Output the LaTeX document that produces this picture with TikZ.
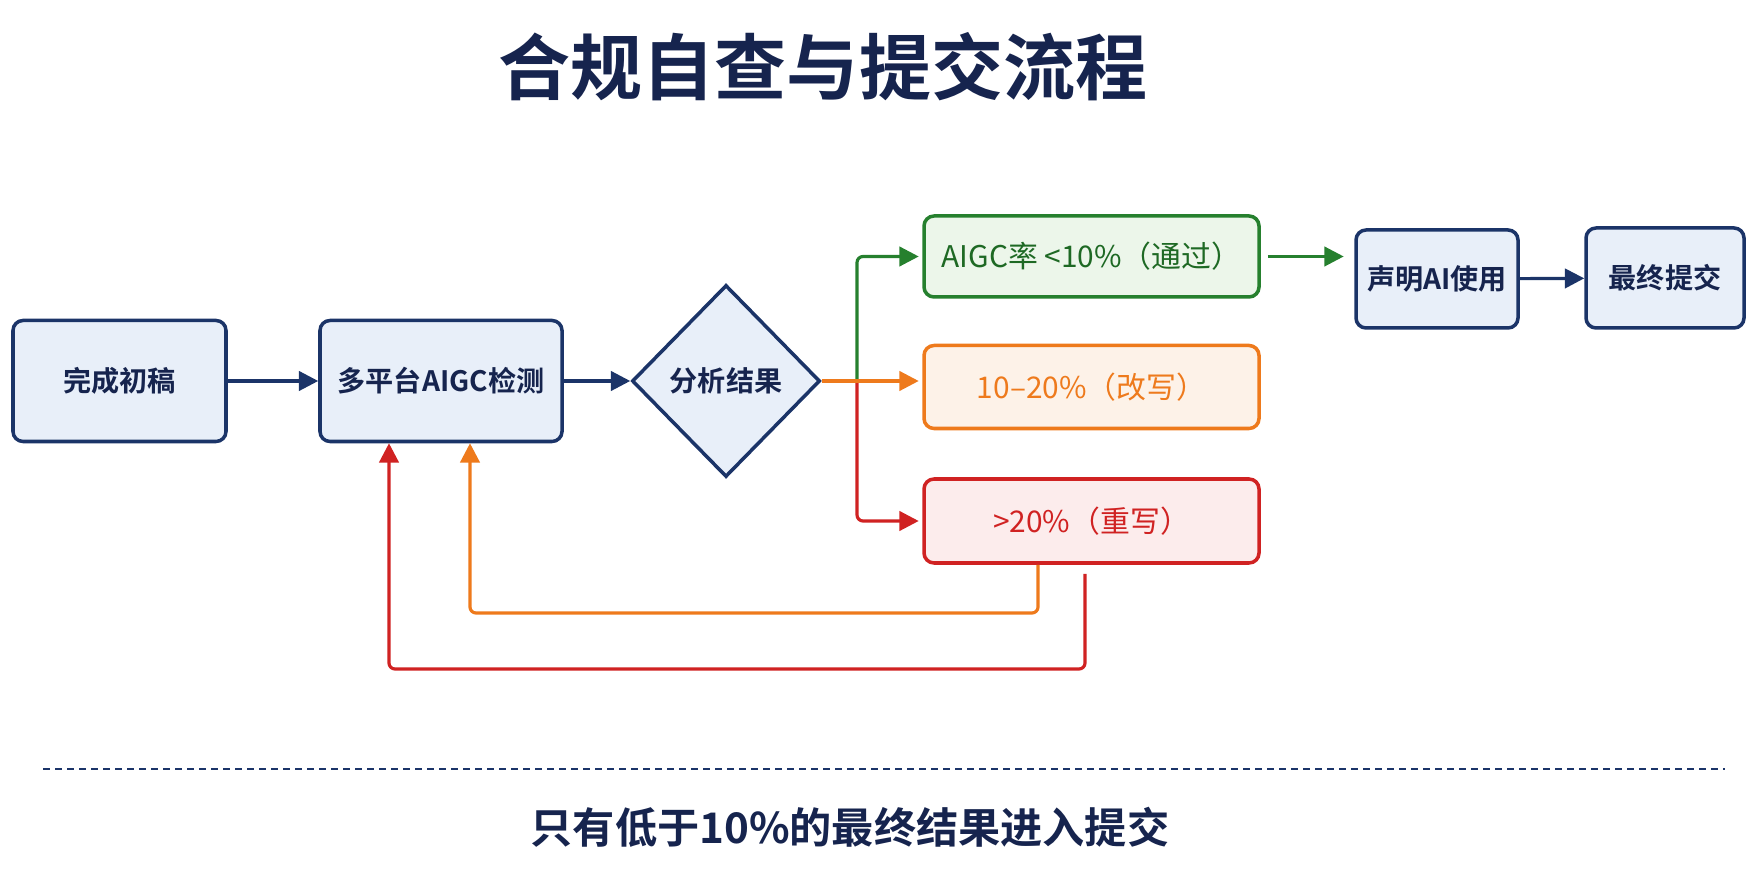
\documentclass[tikz,border=0pt]{standalone}
\usepackage{fontspec}
\setmainfont{Noto Sans CJK SC}[BoldFont={Noto Sans CJK SC Bold}]
\usepackage{tikz}
\usetikzlibrary{arrows.meta,shapes.geometric}
\definecolor{navy}{RGB}{27,52,104}
\definecolor{navytext}{RGB}{22,36,78}
\definecolor{lightblue}{RGB}{232,239,249}
\definecolor{passgreen}{RGB}{38,128,46}
\definecolor{passtext}{RGB}{30,105,36}
\definecolor{passfill}{RGB}{236,246,234}
\definecolor{reviseorange}{RGB}{238,122,28}
\definecolor{revisefill}{RGB}{253,242,232}
\definecolor{redored}{RGB}{208,34,34}
\definecolor{redofill}{RGB}{252,236,236}

\begin{document}
\begin{tikzpicture}[
		stepbox/.style={draw=navy,fill=lightblue,line width=1pt,rounded corners=1mm,inner sep=0pt,text=navytext,font=\bfseries\fontsize{8}{10}\selectfont},
		resultbox/.style={line width=1pt,rounded corners=1mm,inner sep=0pt,minimum width=3.35cm,font=\fontsize{8.5}{10}\selectfont},
		flow/.style={line width=0.9pt,-{Triangle[length=5.5pt,width=5.5pt]}},
		backflow/.style={line width=0.9pt,rounded corners=0.6mm,-{Triangle[length=5.5pt,width=5.5pt]}}]
			\useasboundingbox (0,0) rectangle (17.56,-8.96);
	
			\coordinate (t) at (8.23,-0.67);
			\coordinate (s1) at (1.195,-3.81);
			\coordinate (s2) at (4.41,-3.81);
			\coordinate (d) at (7.26,-3.81);
			\coordinate (split) at (8.57,-3.81);
			\coordinate (r1) at (10.915,-2.565);
			\coordinate (r2) at (10.915,-3.87);
			\coordinate (r3) at (10.915,-5.21);
			\coordinate (s3) at (14.37,-2.79);
			\coordinate (s4) at (16.65,-2.78);
			\coordinate (orangeTurn) at (10.38,-6.13);
			\coordinate (orangeUp) at (4.70,-6.13);
			\coordinate (redTurn) at (10.85,-6.69);
			\coordinate (redUp) at (3.89,-6.69);
	
			\node[text=navytext,font=\bfseries\fontsize{20.5}{24}\selectfont] (Title) at (t) {合规自查与提交流程};
	
			\node[stepbox,minimum width=2.13cm,minimum height=1.21cm] (Draft) at (s1) {完成初稿};
			\node[stepbox,minimum width=2.42cm,minimum height=1.21cm] (Detect) at (s2) {多平台AIGC检测};
			\node[diamond,draw=navy,fill=lightblue,line width=1pt,inner sep=0pt,minimum width=1.88cm,minimum height=1.92cm,text=navytext,font=\bfseries\fontsize{8}{10}\selectfont] (Analyze) at (d) {分析结果};
	
			\node[resultbox,draw=passgreen,fill=passfill,text=passtext,minimum height=0.81cm] (Pass) at (r1) {AIGC率 <10\%（通过）};
			\node[resultbox,draw=reviseorange,fill=revisefill,text=reviseorange,minimum height=0.83cm] (Revise) at (r2) {10–20\%（改写）};
			\node[resultbox,draw=redored,fill=redofill,text=redored,minimum height=0.84cm] (Redo) at (r3) {>20\%（重写）};
	
			\node[stepbox,minimum width=1.62cm,minimum height=0.98cm] (Declare) at (s3) {声明AI使用};
			\node[stepbox,minimum width=1.58cm,minimum height=1.0cm] (Submit) at (s4) {最终提交};
	
			\draw[flow,navy] (Draft) -- (Detect);
			\draw[flow,navy] (Detect) -- (Analyze);
			\draw[flow,passgreen,rounded corners=0.6mm,shorten >=1pt] (split) |- (Pass.west);
			\draw[flow,redored,rounded corners=0.6mm,shorten >=1pt] (split) |- (Redo.west);
			\draw[flow,reviseorange,shorten >=1pt] (Analyze.east) -- (Analyze.east -| Revise.west);
			\draw[flow,passgreen,shorten <=2pt,shorten >=3pt] (Pass.east) -- (Pass.east -| Declare.west);
			\draw[flow,navy] (Declare) -- (Submit);
	
			\draw[backflow,reviseorange] (orangeTurn |- Redo.south) -- (orangeTurn) -- (orangeUp) -- (orangeUp |- Detect.south);
			\draw[backflow,redored] ([yshift=-0.09cm]redTurn |- Redo.south) -- (redTurn) -- (redUp) -- (redUp |- Detect.south);
	
			\draw[navy,line width=0.7pt,dash pattern=on 0.07cm off 0.05cm] (0.43,-7.69) -- (17.25,-7.69);
			\node[text=navytext,font=\bfseries\fontsize{12}{15}\selectfont] (Note) at (8.5,-8.27) {只有低于10\%的最终结果进入提交};
		\end{tikzpicture}
\end{document}
